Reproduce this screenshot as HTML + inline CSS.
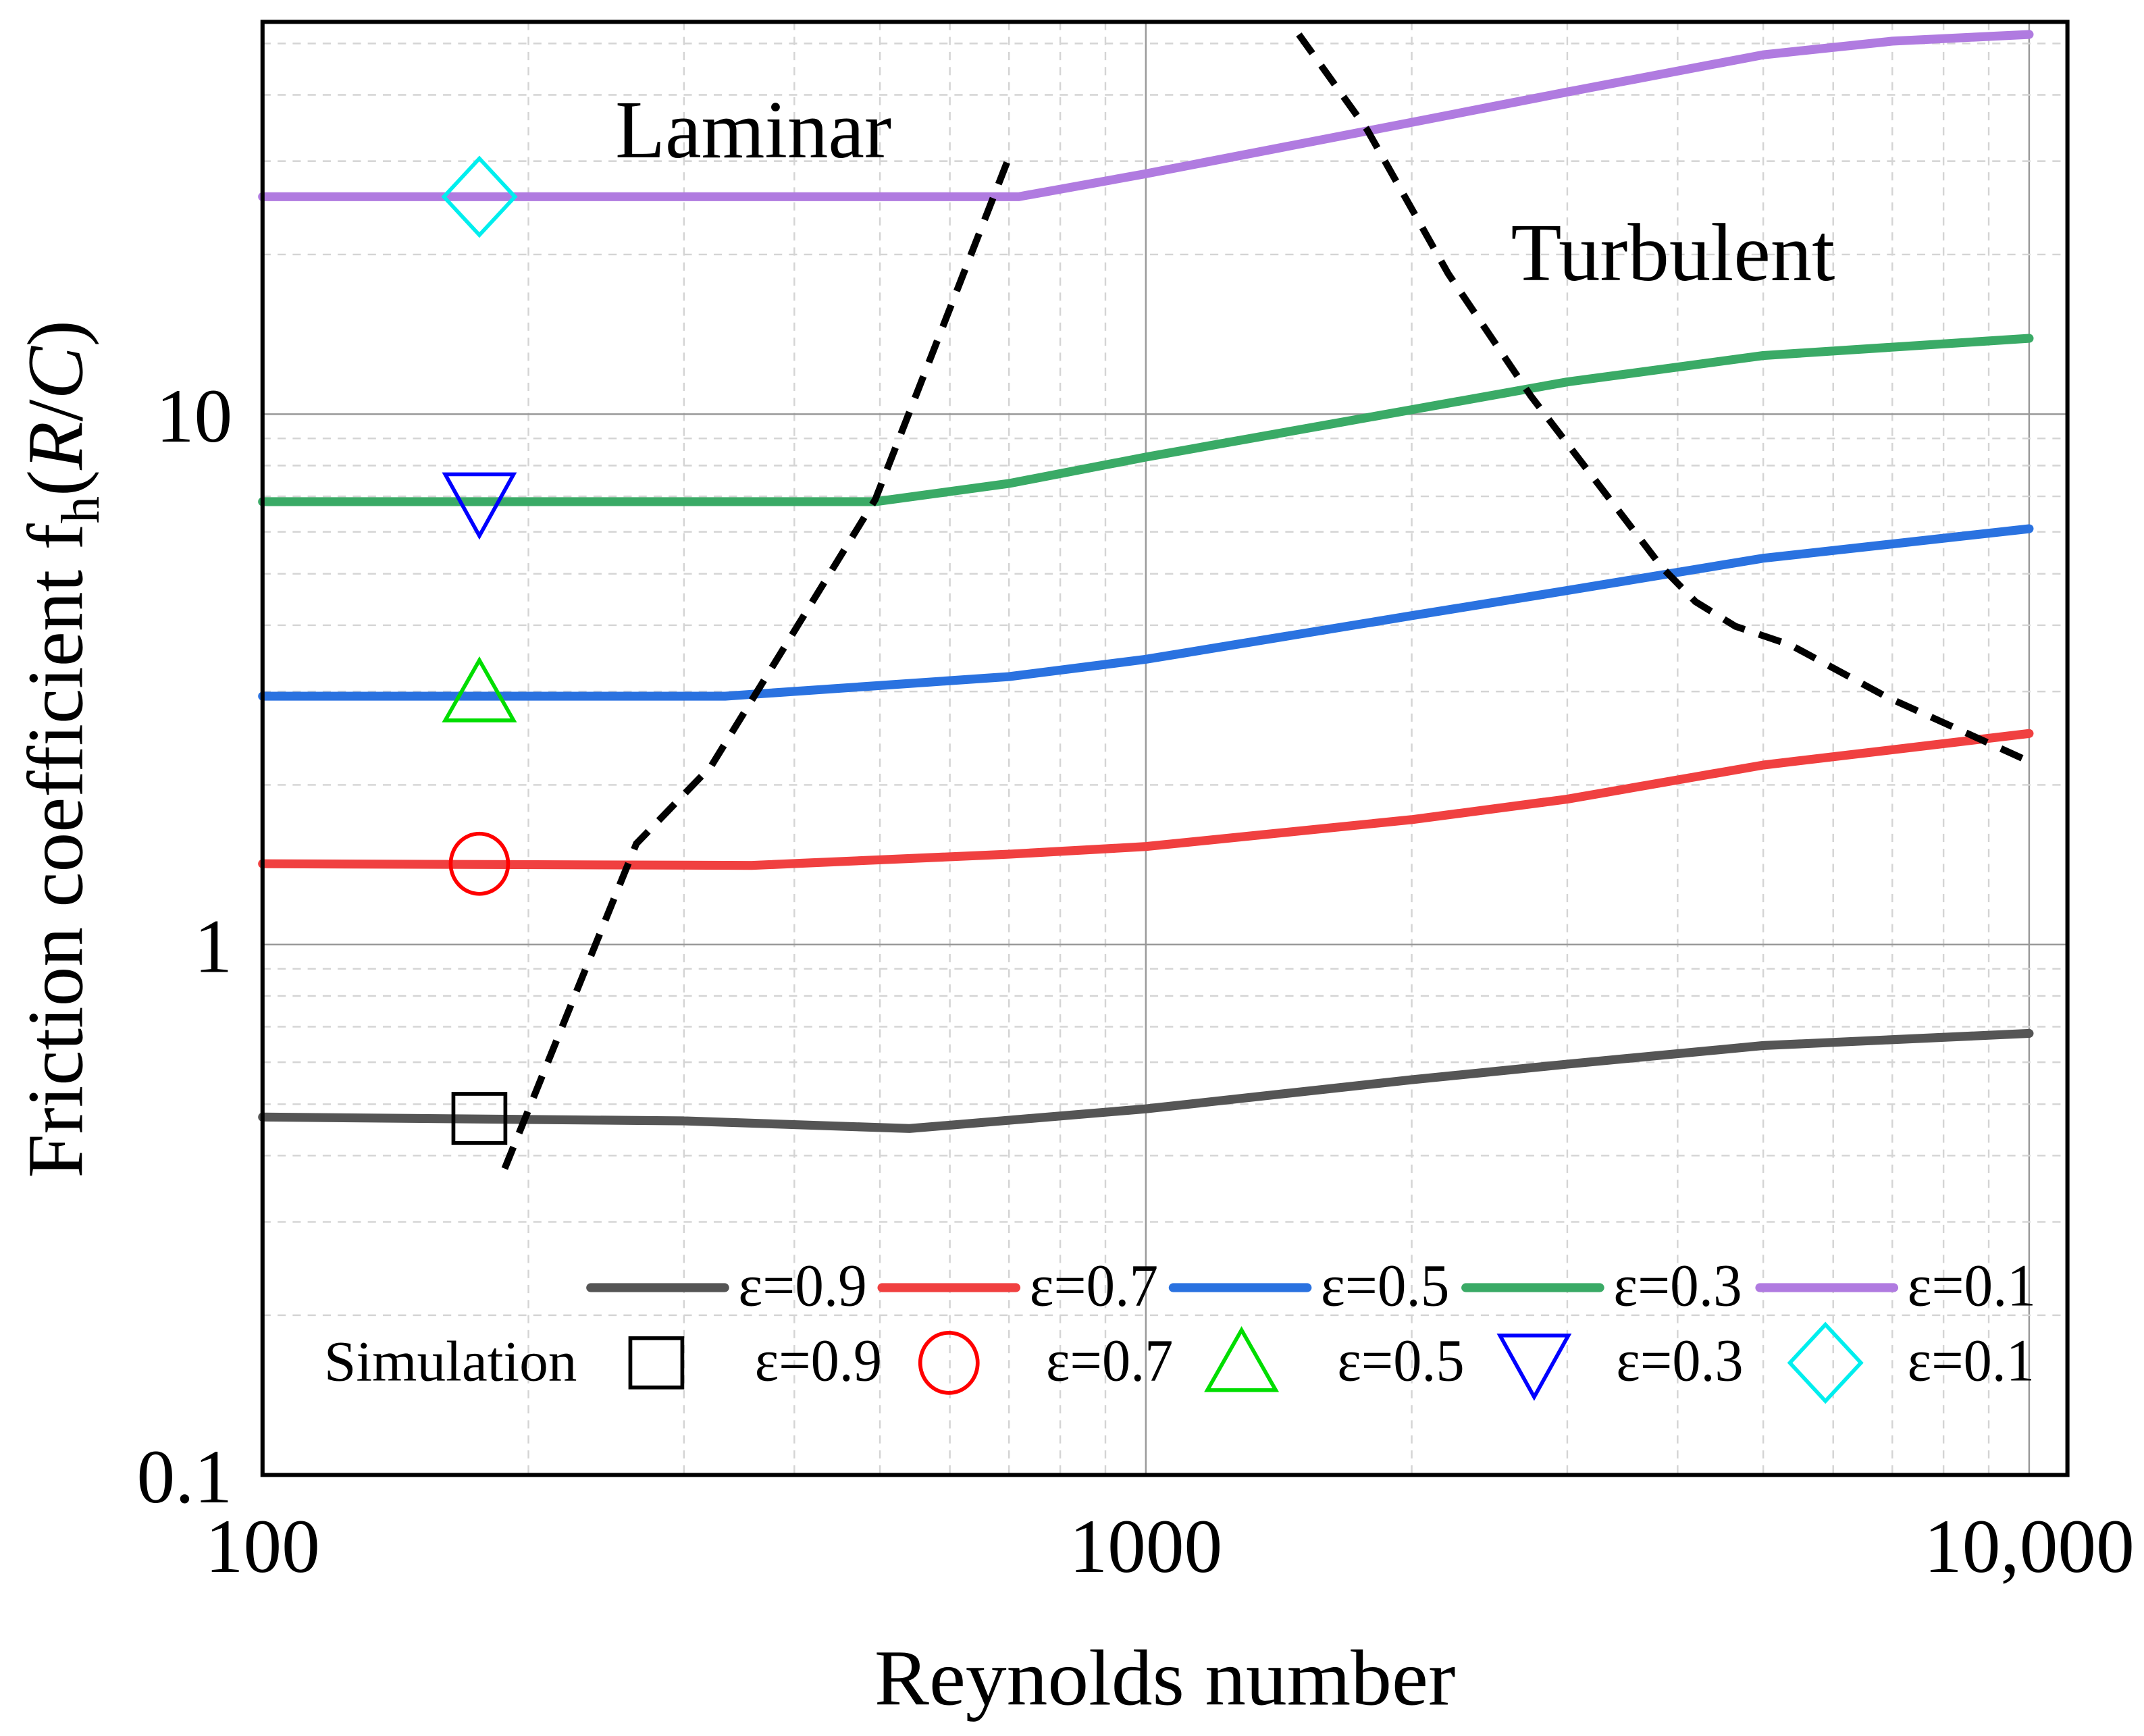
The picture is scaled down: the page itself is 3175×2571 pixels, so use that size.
<!DOCTYPE html>
<html><head><meta charset="utf-8"><style>
html,body{margin:0;padding:0;background:#fff}
svg{display:block}
text{font-family:"Liberation Serif",serif;fill:#000}
</style></head><body>
<svg id="chart" xmlns="http://www.w3.org/2000/svg" width="3175" height="2571" viewBox="0 0 1568 1270" preserveAspectRatio="none">
<g id="grid"></g>
<g id="series"></g>
<g id="markers"></g>
<rect x="192" y="16" width="1320" height="1063" fill="none" stroke="#000" stroke-width="3"/>
<g id="labels">
<text x="450" y="115" font-size="60" textLength="202" lengthAdjust="spacingAndGlyphs">Laminar</text>
<text x="1105" y="205" font-size="60" textLength="237" lengthAdjust="spacingAndGlyphs">Turbulent</text>
<text x="852" y="1247" font-size="58" text-anchor="middle" textLength="425" lengthAdjust="spacingAndGlyphs">Reynolds number</text>
<text transform="translate(60,548) rotate(-90)" font-size="58" text-anchor="middle">Friction coefficient f<tspan font-size="40" dy="12">h</tspan><tspan dy="-12">(</tspan><tspan font-style="italic">R</tspan>/<tspan font-style="italic">C</tspan>)</text>
</g>
<g id="ticks"></g>
<g id="legend"></g>
</svg>
<script>
const xTicks=[100,1000,10000];
const xTickLabels=["100","1000","10,000"];
const yTicks=[0.1,1,10];
const yTickLabels=["0.1","1","10"];
const seriesNames=["ε=0.9","ε=0.7","ε=0.5","ε=0.3","ε=0.1"];
const seriesColors=["#555555","#f04040","#2a72e0","#3aaa66","#b07be0"];
const reE09=[100,300,540,1000,2000,3000,5000,10000];
const fE09=[0.473,0.465,0.45,0.49,0.556,0.595,0.645,0.68];
const reE07=[100,358,700,1000,2000,3000,5000,10000];
const fE07=[1.42,1.41,1.48,1.53,1.72,1.88,2.18,2.5];
const reE05=[100,334,700,1000,2000,3000,5000,10000];
const fE05=[2.94,2.94,3.2,3.45,4.17,4.65,5.35,6.08];
const reE03=[100,494,700,1000,2000,3000,5000,10000];
const fE03=[6.84,6.84,7.4,8.3,10.2,11.5,12.9,13.9];
const reE01=[100,718,1000,2000,3000,5000,7000,10000];
const fE01=[25.7,25.7,28.4,35.5,40.5,47.6,50.5,52];
const reLam=[188,265,322,494,700];
const fLam=[0.378,1.55,2.17,6.9,30.5];
const reTurb=[1490,1780,2200,2730,3840,4190,4650,5370,6900,9850];
const fTurb=[52,34.4,18.4,10.8,5.14,4.43,3.98,3.67,2.93,2.24];
const simRe=[176,176,176,176,176];
const simF=[0.47,1.42,2.98,6.84,25.7];

const X0=192,DEC_X=646,Y1=691,DEC_Y=388;
function xs(v){return X0+Math.log10(v/100)*DEC_X;}
function ys(v){return Y1-Math.log10(v)*DEC_Y;}
const NS="http://www.w3.org/2000/svg";
function mk(tag,parent,attrs){const e=document.createElementNS(NS,tag);for(const k in attrs)e.setAttribute(k,attrs[k]);parent.appendChild(e);return e;}
const grid=document.getElementById('grid');
for(let d=100;d<=10000;d*=10){for(let m=1;m<10;m++){const v=d*m;if(v>10000)break;const x=xs(v);
 const l=mk('line',grid,{x1:x,x2:x,y1:16,y2:1079,stroke:m===1?'#999':'#d4d4d4','stroke-width':1.2,'stroke-dasharray':m===1?'none':'6,5'});
 
 }}
for(let d=0.1;d<100;d*=10){for(let m=1;m<10;m++){const v=d*m;const y=ys(v);if(y<16)break;
 const l=mk('line',grid,{x1:192,x2:1512,y1:y,y2:y,stroke:m===1?'#999':'#d4d4d4','stroke-width':1.2,'stroke-dasharray':m===1?'none':'6,5'});
 
 }}
const ticks=document.getElementById('ticks');
xTicks.forEach((v,i)=>{const t=mk('text',ticks,{x:xs(v),y:1150,'font-size':56,'text-anchor':'middle'});t.textContent=xTickLabels[i];
 
 });
yTicks.forEach((v,i)=>{const t=mk('text',ticks,{x:170,y:ys(v)+20,'font-size':56,'text-anchor':'end'});t.textContent=yTickLabels[i];
 
 });
function pts(rx,fy){return rx.map((r,i)=>xs(r).toFixed(1)+','+ys(fy[i]).toFixed(1)).join(' ');}
const ser=document.getElementById('series');
const data=[[reE09,fE09],[reE07,fE07],[reE05,fE05],[reE03,fE03],[reE01,fE01]];
data.forEach((d,i)=>{const p=mk('polyline',ser,{points:pts(d[0],d[1]),fill:'none',stroke:seriesColors[i],'stroke-width':6.5,'stroke-linejoin':'round','stroke-linecap':'round'});
 
 });
const lam=mk('polyline',ser,{points:pts(reLam,fLam),fill:'none',stroke:'#000','stroke-width':5,'stroke-dasharray':'17,11'});


const tur=mk('polyline',ser,{points:pts(reTurb,fTurb),fill:'none',stroke:'#000','stroke-width':5,'stroke-dasharray':'17,11'});


const mcolors=['#000','#f00','#0d0','#00f','#0ee'];
const mshapes=['square','circle','up','down','diamond'];
function marker(g,shape,cx,cy,c){let e;
 if(shape==='square')e=mk('rect',g,{x:cx-19,y:cy-18,width:38,height:36,fill:'none',stroke:c,'stroke-width':2.8});
 else if(shape==='circle')e=mk('ellipse',g,{cx:cx,cy:cy,rx:21,ry:22,fill:'none',stroke:c,'stroke-width':2.8});
 else if(shape==='up')e=mk('polygon',g,{points:`${cx},${cy-24} ${cx+25},${cy+20} ${cx-25},${cy+20}`,fill:'none',stroke:c,'stroke-width':2.8});
 else if(shape==='down')e=mk('polygon',g,{points:`${cx-25},${cy-20} ${cx+25},${cy-20} ${cx},${cy+25}`,fill:'none',stroke:c,'stroke-width':2.8});
 else e=mk('polygon',g,{points:`${cx},${cy-28} ${cx+26},${cy} ${cx},${cy+28} ${cx-26},${cy}`,fill:'none',stroke:c,'stroke-width':2.8});
 return e;}
const mg=document.getElementById('markers');
simRe.forEach((r,i)=>{const e=marker(mg,mshapes[i],xs(r),ys(simF[i]),mcolors[i]);
 
 });
const lg=document.getElementById('legend');
const lineX=[432,645,858,1072,1287];
lineX.forEach((x,i)=>{const l=mk('line',lg,{x1:x,x2:x+98,y1:942,y2:942,stroke:seriesColors[i],'stroke-width':6.5,'stroke-linecap':'round'});
 
 
 const t=mk('text',lg,{x:x+108,y:955,'font-size':44,textLength:94,lengthAdjust:'spacingAndGlyphs'});t.textContent=seriesNames[i];
 
 });
const st=mk('text',lg,{x:237,y:1010,'font-size':42,textLength:185,lengthAdjust:'spacingAndGlyphs'});st.textContent='Simulation';


const mX=[480,694,908,1122,1335],tX=[552,765,978,1182,1395];
mX.forEach((x,i)=>{const e=marker(lg,mshapes[i],x,997,mcolors[i]);
 
 
 const t=mk('text',lg,{x:tX[i],y:1010,'font-size':44,textLength:93,lengthAdjust:'spacingAndGlyphs'});t.textContent=seriesNames[i];
 
 });
</script>
</body></html>
